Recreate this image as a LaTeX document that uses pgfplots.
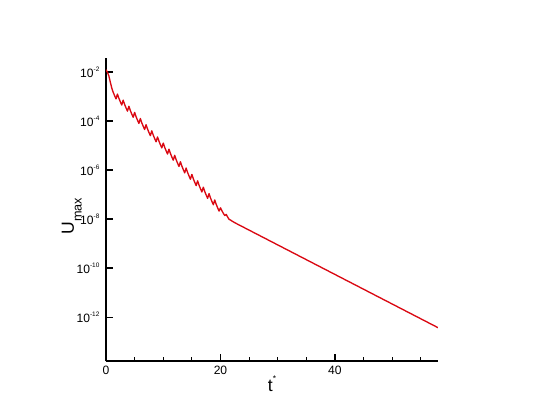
\documentclass[border=0pt]{standalone}
\usepackage{fontspec}
\setmainfont{Liberation Sans}
\usepackage{pgfplots}
\usepackage{pgfplotstable}
\pgfplotsset{compat=1.18}
\definecolor{umaxred}{RGB}{218,8,18}

% exponent label in the tecplot style: small raised "-n"
\newcommand{\tenexp}[1]{10\raisebox{4.3pt}{\fontsize{4.6}{5}\selectfont #1}}

% U_max history, t* versus U_max
\pgfplotstableread{
t      umax
0      1.259e-2
0.25   1.0e-2
0.5    7.079e-3
0.75   3.981e-3
1      2.292e-3
1.25   1.540e-3
1.5    1.109e-3
1.75   8.171e-4
2      1.289e-3
2.25   8.660e-4
2.5    6.237e-4
2.75   4.595e-4
3      7.248e-4
3.25   4.870e-4
3.5    3.508e-4
3.75   2.584e-4
4      4.076e-4
4.25   2.738e-4
4.5    1.972e-4
4.75   1.453e-4
5      2.292e-4
5.25   1.540e-4
5.5    1.109e-4
5.75   8.171e-5
6      1.289e-4
6.25   8.660e-5
6.5    6.237e-5
6.75   4.595e-5
7      7.248e-5
7.25   4.870e-5
7.5    3.508e-5
7.75   2.584e-5
8      4.076e-5
8.25   2.738e-5
8.5    1.972e-5
8.75   1.453e-5
9      2.292e-5
9.25   1.540e-5
9.5    1.109e-5
9.75   8.171e-6
10     1.289e-5
10.25  8.660e-6
10.5   6.237e-6
10.75  4.595e-6
11     7.248e-6
11.25  4.870e-6
11.5   3.508e-6
11.75  2.584e-6
12     4.076e-6
12.25  2.723e-6
12.5   1.950e-6
12.75  1.428e-6
13     2.239e-6
13.25  1.496e-6
13.5   1.072e-6
13.75  7.849e-7
14     1.231e-6
14.25  8.222e-7
14.5   5.888e-7
14.75  4.313e-7
15     6.764e-7
15.25  4.519e-7
15.5   3.236e-7
15.75  2.370e-7
16     3.717e-7
16.25  2.483e-7
16.5   1.778e-7
16.75  1.302e-7
17     2.042e-7
17.25  1.365e-7
17.5   9.772e-8
17.75  7.159e-8
18     1.122e-7
18.25  7.499e-8
18.5   5.370e-8
18.75  3.934e-8
19     6.168e-8
19.25  4.121e-8
19.5   2.951e-8
19.75  2.161e-8
20     2.951e-8
20.25  2.265e-8
20.5   1.738e-8
20.75  1.429e-8
21     1.585e-8
21.25  1.245e-8
21.5   1.000e-8
21.75  9.333e-9
22     8.511e-9
22.5   7.244e-9
23     6.310e-9
58     3.802e-13
}\umaxdata

\begin{document}
\begin{tikzpicture}
  % page frame, 540 x 417 px at 0.025 cm per px
  \path[use as bounding box] (-2.65,-1.4) rectangle (10.85,9.025);
  \begin{axis}[
    at={(0,0)}, anchor=south west,
    scale only axis,
    width=8.3cm, height=7.575cm,
    xmin=0, xmax=58,
    ymode=log, ymin=1.66e-14, ymax=3.8e-2,
    axis x line*=bottom, axis y line*=left,
    axis line style={line width=1.2pt},
    tick align=inside,
    xtick={0,20,40}, xticklabels={0,20,40},
    minor xtick={5,10,15,25,30,35,45,50,55},
    ytick={1e-2,1e-4,1e-6,1e-8,1e-10,1e-12},
    yticklabels={\tenexp{-2},\tenexp{-4},\tenexp{-6},\tenexp{-8},\tenexp{-10},\tenexp{-12}},
    yminorticks=false,
    major tick length=0.175cm, minor tick length=0.1cm,
    major tick style={black, line width=1.2pt},
    minor tick style={black, line width=0.8pt},
    ticklabel style={font=\fontsize{8.6}{10}\selectfont},
    yticklabel style={xshift=-0.04cm},
    xlabel={t\raisebox{7.4pt}{\fontsize{6}{7}\selectfont *}},
    ylabel={U\raisebox{-5.4pt}{\fontsize{9}{10}\selectfont max}},
    label style={font=\fontsize{12.5}{14}\selectfont},
    xlabel style={at={(axis description cs:0.5,-0.102)}, anchor=base},
    ylabel style={at={(axis description cs:-0.0964,0.4785)}, anchor=base},
  ]
    \addplot[umaxred, line width=0.95pt, line join=round] table[x=t, y=umax] {\umaxdata};
  \end{axis}
\end{tikzpicture}
\end{document}
